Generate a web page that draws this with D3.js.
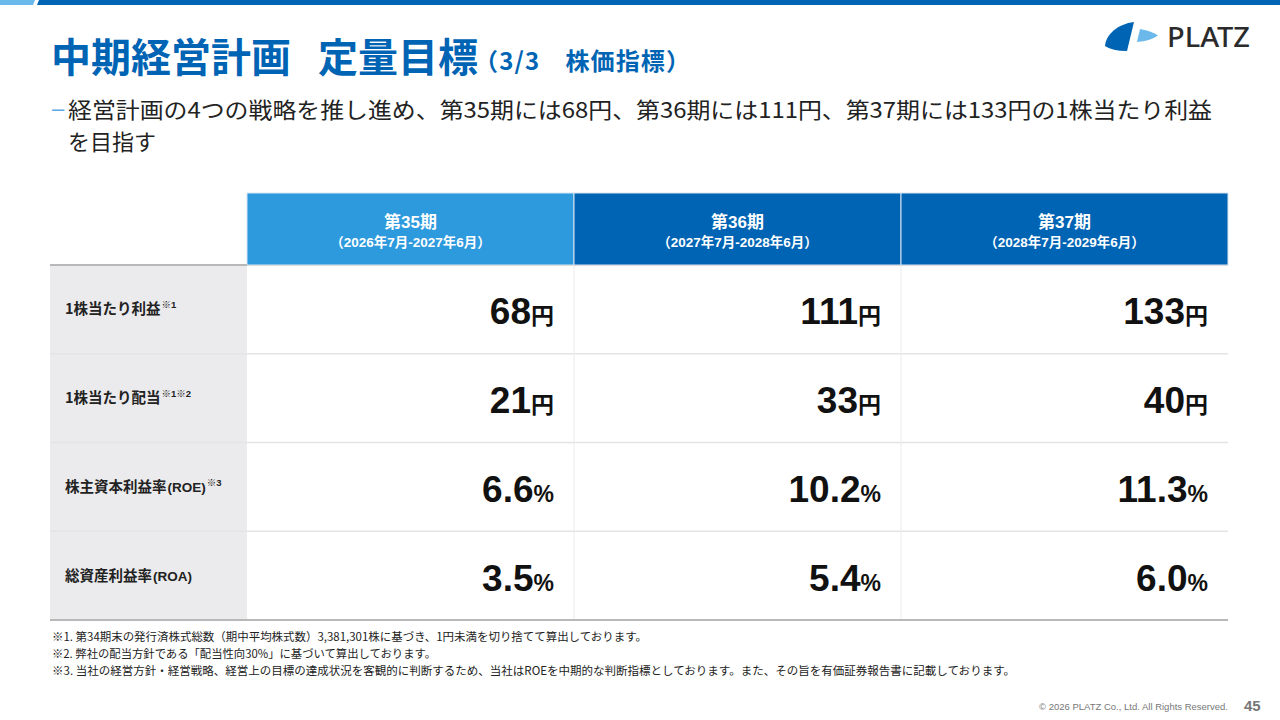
<!DOCTYPE html>
<html lang="ja">
<head>
<meta charset="utf-8">
<script src="https://cdn.jsdelivr.net/npm/d3@7"></script>
<style>
  html, body { margin: 0; padding: 0; background: #fff; }
  svg { display: block; font-family: "Liberation Sans", Arial, "Noto Sans CJK JP", sans-serif; }
</style>
</head>
<body>
<svg id="slide" width="1280" height="720"></svg>
<script>
const periods = ["第35期", "第36期", "第37期"];
const periodRanges = [
  "（2026年7月-2027年6月）",
  "（2027年7月-2028年6月）",
  "（2028年7月-2029年6月）"
];
const metrics = ["1株当たり利益", "1株当たり配当", "株主資本利益率", "総資産利益率"];
const metricAbbr = ["", "", "(ROE)", "(ROA)"];
const metricNotes = ["※1", "※1※2", "※3", ""];
const units = ["円", "円", "%", "%"];
const valuesP35 = ["68", "21", "6.6", "3.5"];
const valuesP36 = ["111", "33", "10.2", "5.4"];
const valuesP37 = ["133", "40", "11.3", "6.0"];
const footnotes = [
  "※1. 第34期末の発行済株式総数（期中平均株式数）3,381,301株に基づき、1円未満を切り捨てて算出しております。",
  "※2. 弊社の配当方針である「配当性向30%」に基づいて算出しております。",
  "※3. 当社の経営方針・経営戦略、経営上の目標の達成状況を客観的に判断するため、当社はROEを中期的な判断指標としております。また、その旨を有価証券報告書に記載しております。"
];
const footnoteWidths = [595, 384, 963];

const values = [valuesP35, valuesP36, valuesP37];
const blue = "#0064b4";
const lightBlue = "#2e9ade";
const jp = "'Noto Sans CJK JP', sans-serif";

const svg = d3.select("#slide");

// top bar
svg.append("polygon").attr("points", "0,0 35,0 33,5 0,5").attr("fill", "#6bb8ea");
svg.append("polygon").attr("points", "39,0 1280,0 1280,5 37,5").attr("fill", blue);

// title
const titleStyle = sel => sel.attr("fill", blue).attr("font-family", jp).attr("font-weight", "bold");
svg.append("text").attr("x", 51).attr("y", 72).attr("font-size", 40)
  .call(titleStyle).text("中期経営計画");
svg.append("text").attr("x", 318).attr("y", 72).attr("font-size", 40)
  .call(titleStyle).text("定量目標");
svg.append("text").attr("x", 474).attr("y", 70).attr("font-size", 24)
  .call(titleStyle)
  .attr("textLength", 216).attr("lengthAdjust", "spacing")
  .text("（3/3　株価指標）");

// subtitle
svg.append("text")
  .attr("x", 52).attr("y", 116)
  .attr("fill", "#5aa9e0").attr("font-size", 22)
  .text("–");
svg.append("text")
  .attr("x", 68).attr("y", 118)
  .attr("fill", "#222").attr("font-size", 22)
  .attr("font-family", jp)
  .attr("textLength", 1144).attr("lengthAdjust", "spacingAndGlyphs")
  .text("経営計画の4つの戦略を推し進め、第35期には68円、第36期には111円、第37期には133円の1株当たり利益");
svg.append("text")
  .attr("x", 68).attr("y", 150)
  .attr("fill", "#222").attr("font-size", 22)
  .attr("font-family", jp)
  .text("を目指す");

// logo
const logo = svg.append("g");
logo.append("path")
  .attr("d", "M1134,22 L1127,51 Q1112,51 1105,46 C1106,34 1118,24 1134,22 Z")
  .attr("fill", blue);
logo.append("path")
  .attr("d", "M1140,29 Q1152,31 1158,35.5 Q1150,41 1137,42 Z")
  .attr("fill", "#6bb8ea");
logo.append("text")
  .attr("x", 1167).attr("y", 47)
  .attr("font-family", "'Noto Sans', sans-serif")
  .attr("font-size", 27).attr("font-weight", 500).attr("fill", "#2b2b2b")
  .attr("textLength", 83).attr("lengthAdjust", "spacingAndGlyphs")
  .text("PLATZ");

// table scales
const tableLeft = 50;
const x = d3.scaleBand().domain(periods).range([247, 1228]);
const y = d3.scaleBand().domain(metrics).range([265, 620]);
const headerTop = 193;

// label column background
svg.append("rect")
  .attr("x", tableLeft).attr("y", y.range()[0])
  .attr("width", x.range()[0] - tableLeft)
  .attr("height", y.range()[1] - y.range()[0])
  .attr("fill", "#ebebed");

// header cells
const head = svg.selectAll("g.head").data(periods).join("g").attr("class", "head");
head.append("rect")
  .attr("x", d => x(d)).attr("y", headerTop)
  .attr("width", x.bandwidth()).attr("height", y.range()[0] - headerTop)
  .attr("fill", (d, i) => i === 0 ? lightBlue : blue)
  .attr("stroke", "#d8e6f2").attr("stroke-width", 1);
head.append("text")
  .attr("x", d => x(d) + x.bandwidth() / 2).attr("y", 228)
  .attr("text-anchor", "middle").attr("fill", "#fff")
  .attr("font-size", 17).attr("font-weight", "bold")
  .text(d => d);
head.append("text")
  .attr("x", d => x(d) + x.bandwidth() / 2).attr("y", 247)
  .attr("text-anchor", "middle").attr("fill", "#fff")
  .attr("font-size", 13.5).attr("font-weight", "bold")
  .text((d, i) => periodRanges[i]);

// row separators
svg.selectAll("line.row").data(metrics.slice(1)).join("line")
  .attr("class", "row")
  .attr("x1", tableLeft).attr("x2", x.range()[1])
  .attr("y1", d => y(d)).attr("y2", d => y(d))
  .attr("stroke", "#e4e4e6").attr("stroke-width", 1.5);

// column separators in body
svg.selectAll("line.col").data(periods.slice(1)).join("line")
  .attr("class", "col")
  .attr("x1", d => x(d)).attr("x2", d => x(d))
  .attr("y1", y.range()[0]).attr("y2", y.range()[1])
  .attr("stroke", "#ececee").attr("stroke-width", 1);

// top and bottom borders
svg.append("line")
  .attr("x1", tableLeft).attr("x2", x.range()[0])
  .attr("y1", y.range()[0]).attr("y2", y.range()[0])
  .attr("stroke", "#b8b8b8").attr("stroke-width", 2);
svg.append("line")
  .attr("x1", x.range()[0]).attr("x2", x.range()[1])
  .attr("y1", y.range()[0] + 0.5).attr("y2", y.range()[0] + 0.5)
  .attr("stroke", "#dcdcdc").attr("stroke-width", 1);
svg.append("line")
  .attr("x1", tableLeft).attr("x2", x.range()[1])
  .attr("y1", y.range()[1]).attr("y2", y.range()[1])
  .attr("stroke", "#b8b8b8").attr("stroke-width", 2);

// row labels
const labels = svg.selectAll("text.label").data(metrics).join("text")
  .attr("class", "label")
  .attr("x", 65).attr("y", d => y(d) + y.bandwidth() / 2 + 5)
  .attr("fill", "#222").attr("font-size", 14.5).attr("font-weight", "bold");
labels.append("tspan").attr("font-family", jp).text(d => d);
labels.append("tspan").attr("font-size", 13.5).attr("dx", 1).text((d, i) => metricAbbr[i]);
labels.append("tspan")
  .attr("font-size", 9.5).attr("dy", -6).attr("dx", 1)
  .text((d, i) => metricNotes[i]);

// values
periods.forEach((p, ci) => {
  const t = svg.selectAll(null).data(metrics).join("text")
    .attr("x", x(p) + x.bandwidth() - 20)
    .attr("y", d => y(d) + y.bandwidth() / 2 + 15)
    .attr("text-anchor", "end").attr("fill", "#111")
    .attr("font-weight", "bold");
  t.append("tspan").attr("font-size", 37).text((d, i) => values[ci][i]);
  t.append("tspan").attr("font-size", 23).text((d, i) => units[i]);
});

// footnotes
svg.selectAll("text.note").data(footnotes).join("text")
  .attr("class", "note")
  .attr("x", 52).attr("y", (d, i) => 641 + i * 17)
  .attr("fill", "#222").attr("font-size", 11.5)
  .attr("font-family", jp)
  .attr("textLength", (d, i) => footnoteWidths[i]).attr("lengthAdjust", "spacingAndGlyphs")
  .text(d => d);

// footer
svg.append("text")
  .attr("x", 1228).attr("y", 710)
  .attr("text-anchor", "end").attr("fill", "#777").attr("font-size", 9.5)
  .text("© 2026 PLATZ Co., Ltd. All Rights Reserved.");
svg.append("text")
  .attr("x", 1244).attr("y", 711)
  .attr("fill", "#777").attr("font-size", 15).attr("font-weight", "bold")
  .text("45");
</script>
</body>
</html>
